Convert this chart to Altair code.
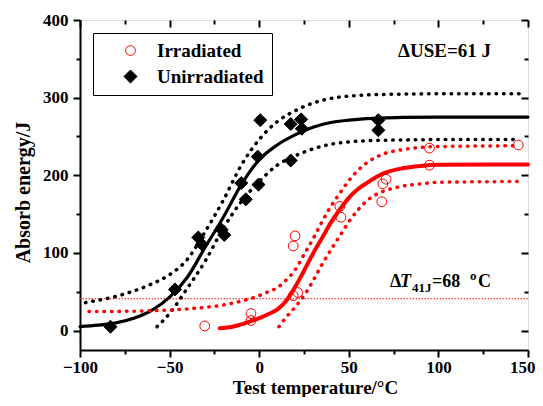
import altair as alt
import pandas as pd

# ---------------- data ----------------
series_names = ["Irradiated", "Unirradiated"]

unirr_T = [-83, -47, -34, -32, -21, -19.5, -10, -7.5, 0.6, -0.8, -0.4, 17.6, 17.6, 23.4, 23.8, 66.5, 66.5]
unirr_E = [5, 53, 120, 111, 130, 123, 190, 169, 271, 224, 188, 219, 266, 272, 260, 271, 258]

irr_T = [-30.4, -4.6, -4.6, 19, 20, 19, 21.5, 45, 45.6, 68.4, 69, 70.8, 95, 95, 144.6]
irr_E = [6, 22, 13, 109, 122, 45, 49, 160, 146, 166, 189, 195, 235, 213, 239]

black_fit_T = [-100, -90, -80, -70, -60, -50, -40, -30, -20, -10, 0, 10, 20, 30, 40, 50, 60, 80, 100, 150]
black_fit_E = [5, 7, 10, 16, 26, 43, 69, 108, 146, 188, 220, 239, 252, 262, 268, 271, 273, 274.5, 275, 275]

black_up_T = [-97, -90, -80, -70, -60, -50, -40, -30, -20, -10, 0, 10, 20, 30, 40, 50, 60, 80, 100, 145]
black_up_E = [36, 39, 44, 51, 60, 72, 92, 128, 168, 213, 246, 269, 283, 293, 299, 302, 303.5, 304.5, 305, 305]

black_lo_T = [-57, -50, -40, -30, -20, -10, 0, 10, 20, 30, 40, 50, 60, 80, 100, 145]
black_lo_E = [5, 22, 55, 90, 132, 166, 192, 213, 225, 234, 240, 243, 244.5, 245.5, 246, 246]

red_fit_T = [-22, -15, -10, -5, 0, 5, 10, 15, 20, 25, 30, 35, 40, 45, 50, 55, 60, 70, 80, 90, 100, 150]
red_fit_E = [3, 5, 8, 12, 16, 21, 27, 38, 56, 77, 99, 119, 139, 156, 171, 182, 190, 203, 209, 212, 213.5, 214]

red_up_T = [-95, -70, -50, -40, -30, -20, -10, 0, 5, 10, 15, 20, 25, 30, 35, 40, 45, 50, 55, 60, 70, 80, 90, 100, 145]
red_up_E = [24.5, 25, 26.5, 28, 30, 33, 38, 45, 50, 55, 65, 78, 98, 118, 140, 160, 177, 193, 206, 216, 228, 233, 236, 237, 238]

red_lo_T = [11, 15, 20, 25, 30, 35, 40, 45, 50, 55, 60, 65, 70, 80, 90, 100, 145]
red_lo_E = [5, 17, 30, 45, 64, 85, 104, 122, 140, 155, 167, 175, 180, 186, 189, 191, 192]

t41_level = [41]

x_major = [-100, -50, 0, 50, 100, 150]
x_minor = [-75, -25, 25, 75, 125]
y_major = [0, 100, 200, 300, 400]
y_minor = [50, 150, 250, 350]

use_text = "\u0394USE=61 J"
use_pos = (77.5, 352)
dt_pos = (73, 56.6)

# ---------------- chart ----------------
FONT = "Liberation Serif"
RED = "#ff0000"
xs = alt.Scale(domain=[-100, 150], nice=False, zero=False)
ys = alt.Scale(domain=[-25, 400], nice=False, zero=False)


def tick_axis(orient, values, size, offset=0):
    return alt.Axis(orient=orient, values=values, tickSize=size, tickWidth=2, tickColor="black",
                    labels=False, domain=False, grid=False, title=None, offset=offset)


def curve(T, E, color, width, dotted, xaxis=None, yaxis=None):
    df = pd.DataFrame({"T": T, "E": E})
    kw = dict(color=color, strokeWidth=width, interpolate="monotone")
    if dotted:
        kw.update(strokeDash=[0.5, 7], strokeCap="round")
    else:
        kw.update(strokeCap="round")
    return alt.Chart(df).mark_line(**kw).encode(
        x=alt.X("T:Q", scale=xs, axis=xaxis),
        y=alt.Y("E:Q", scale=ys, axis=yaxis),
    )


last_x = "datum.value == %d" % x_major[-1]
x_main_axis = alt.Axis(orient="bottom", values=x_major, tickSize=7, tickWidth=2, tickColor="black",
                       domain=True, domainWidth=2, domainColor="black", grid=False,
                       labelFont=FONT, labelFontSize=17, labelFontWeight="bold", labelColor="black",
                       labelPadding=2, labelFlush=False,
                       labelAlign={"condition": {"test": last_x, "value": "right"}, "value": "center"},
                       labelOffset={"condition": {"test": last_x, "value": 7}, "value": 0},
                       title="Test temperature/\u00b0C", titleFont=FONT, titleFontSize=19,
                       titleFontWeight="bold", titleColor="black", titleX=235, titleY=43,
                       titleAlign="center", titleBaseline="alphabetic")
y_main_axis = alt.Axis(orient="left", values=y_major, tickSize=7, tickWidth=2, tickColor="black",
                       domain=True, domainWidth=2, domainColor="black", grid=False,
                       labelFont=FONT, labelFontSize=17, labelFontWeight="bold", labelColor="black",
                       labelPadding=5, labelFlush=False,
                       title="Absorb energy/J", titleFont=FONT, titleFontSize=20,
                       titleFontWeight="bold", titleColor="black", titleX=-51, titleY=172,
                       titleAngle=270, titleAlign="center", titleBaseline="alphabetic")

hline = alt.Chart(pd.DataFrame({"E": t41_level})).mark_rule(
    color=RED, strokeWidth=1, strokeDash=[1.5, 1.5]
).encode(y=alt.Y("E:Q", scale=ys, axis=None))

l_black_up = curve(black_up_T, black_up_E, "black", 3.5, True,
                   tick_axis("top", x_major, 7, -7), tick_axis("right", y_major, 7, -7))
l_black_lo = curve(black_lo_T, black_lo_E, "black", 3.5, True,
                   tick_axis("top", x_minor, 4, -4), tick_axis("right", y_minor, 4, -4))
l_black = curve(black_fit_T, black_fit_E, "black", 3.2, False, x_main_axis, y_main_axis)
l_red_up = curve(red_up_T, red_up_E, RED, 3.5, True)
l_red_lo = curve(red_lo_T, red_lo_E, RED, 3.5, True)
l_red = curve(red_fit_T, red_fit_E, RED, 4, False,
              tick_axis("bottom", x_minor, 4), tick_axis("left", y_minor, 4))

points_df = pd.concat([
    pd.DataFrame({"T": irr_T, "E": irr_E, "series": series_names[0]}),
    pd.DataFrame({"T": unirr_T, "E": unirr_E, "series": series_names[1]}),
])

leg = alt.Legend(title=None, orient="none", legendX=13, legendY=13, strokeColor="black",
                 padding=8, rowPadding=6, symbolOffset=20, labelOffset=17,
                 labelFont=FONT, labelFontSize=19, labelFontWeight="bold", labelColor="black",
                 symbolStrokeWidth=1)

pts = alt.Chart(points_df).mark_point(opacity=1, strokeWidth=1).encode(
    x=alt.X("T:Q", scale=xs, axis=None),
    y=alt.Y("E:Q", scale=ys, axis=None),
    shape=alt.Shape("series:N", scale=alt.Scale(domain=series_names, range=["circle", "diamond"]), legend=leg),
    stroke=alt.Stroke("series:N", scale=alt.Scale(domain=series_names, range=[RED, "black"]), legend=leg),
    fill=alt.Fill("series:N", scale=alt.Scale(domain=series_names, range=["transparent", "black"]), legend=leg),
    size=alt.Size("series:N", scale=alt.Scale(domain=series_names, range=[95, 170]), legend=leg),
)


def label(text, pos, dx=0, dy=0, size=18, style="normal"):
    df = pd.DataFrame({"T": [pos[0]], "E": [pos[1]], "t": [text]})
    return alt.Chart(df).mark_text(
        align="left", baseline="alphabetic", dx=dx, dy=dy, font=FONT, fontSize=size,
        fontWeight="bold", fontStyle=style, color="black"
    ).encode(x=alt.X("T:Q", scale=xs, axis=None), y=alt.Y("E:Q", scale=ys, axis=None), text="t:N")


texts = [
    label(use_text, use_pos, size=19),
    label("\u0394", dt_pos, dx=0),
    label("T", dt_pos, dx=10, style="italic"),
    label("41J", dt_pos, dx=22, dy=5, size=13),
    label("=68", dt_pos, dx=42),
    label("o", dt_pos, dx=80, dy=-7, size=13),
    label("C", dt_pos, dx=88),
]

chart = alt.layer(
    hline, l_black_up, l_black_lo, l_black, l_red_up, l_red_lo, l_red, pts, *texts
).resolve_axis(x="independent", y="independent").properties(
    width=448, height=330,
    autosize=alt.AutoSizeParams(type="none"),
    padding={"left": 72, "top": 12, "right": 7, "bottom": 47},
).configure_view(stroke="black", strokeWidth=2).configure(background="white")

chart.save("out.html", embed_options={"renderer": "svg", "actions": False})
